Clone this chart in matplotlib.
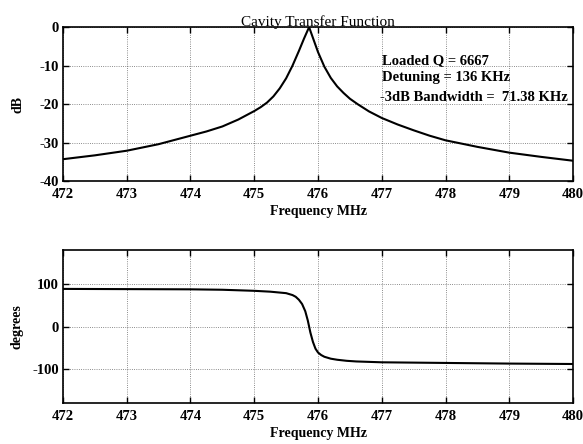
import matplotlib
matplotlib.use("Agg")
import matplotlib.pyplot as plt

# magnitude (MHz, dB)
freq_mag = [472.0, 472.5, 473.0, 473.5, 474.0, 474.25, 474.5, 474.75, 475.0,
            475.1, 475.2, 475.3, 475.4, 475.5, 475.6, 475.7, 475.78, 475.86,
            475.92, 476.0, 476.1, 476.2, 476.3, 476.4, 476.5, 476.62, 476.8,
            477.0, 477.25, 477.5, 477.75, 478.0, 478.5, 479.0, 479.5, 480.0]
mag_db = [-34.3, -33.3, -32.1, -30.4, -28.2, -27.1, -25.8, -24.0, -21.8,
          -20.8, -19.6, -18.0, -15.9, -13.3, -10.0, -6.2, -3.0, 0.0,
          -2.8, -6.5, -10.3, -13.2, -15.4, -17.1, -18.6, -20.0, -21.9,
          -23.6, -25.3, -26.8, -28.2, -29.4, -31.1, -32.6, -33.7, -34.7]

# phase (MHz, degrees)
freq_ph = [472.0, 473.0, 474.0, 474.5, 475.0, 475.25, 475.5, 475.6, 475.65,
           475.7, 475.75, 475.8, 475.84, 475.86, 475.88, 475.92, 475.96, 476.0,
           476.05, 476.1, 476.2, 476.3, 476.45, 476.6, 477.0, 478.0, 479.0, 480.0]
phase_deg = [88.5, 88.0, 87.5, 86.5, 84.0, 82.0, 78.5, 74.0, 70.0,
             63.0, 53.0, 36.0, 14.0, 0.0, -14.0, -36.0, -52.0, -61.0,
             -67.0, -71.0, -75.5, -78.0, -80.5, -82.0, -84.0, -85.5, -87.0, -88.0]

x_ticks = [472, 473, 474, 475, 476, 477, 478, 479, 480]
mag_ticks = [0, -10, -20, -30, -40]
ph_ticks = [-100, 0, 100]

plt.rcParams['font.family'] = ['Liberation Serif', 'DejaVu Serif']
plt.rcParams['font.weight'] = 'bold'
plt.rcParams['axes.unicode_minus'] = False

fig = plt.figure(figsize=(5.83, 4.44), dpi=100)
ax1 = fig.add_axes([0.108, 0.592, 0.875, 0.347])
ax2 = fig.add_axes([0.108, 0.092, 0.875, 0.345])

ax1.plot(freq_mag, mag_db, color='black', lw=1.5)
ax1.set_xlim(472, 480)
ax1.set_ylim(-40, 0)
ax1.set_yticks(mag_ticks)
ax1.set_ylabel('dB', fontsize=10, fontweight='bold', labelpad=11)
ax1.set_xlabel('Frequency MHz', fontsize=10, fontweight='bold', labelpad=3)
ax1.set_title('Cavity Transfer Function', fontsize=11, fontweight='normal', pad=1)
ax1.text(477.0, -8.6, 'Loaded Q = 6667', fontsize=10.5, fontweight='bold', va='center')
ax1.text(477.0, -13.0, 'Detuning = 136 KHz', fontsize=10.5, fontweight='bold', va='center')
ax1.text(476.97, -18.2, '-3dB Bandwidth =  71.38 KHz', fontsize=10.5, fontweight='bold',
         va='center')

ax2.plot(freq_ph, phase_deg, color='black', lw=1.5)
ax2.set_xlim(472, 480)
ax2.set_ylim(-180, 180)
ax2.set_yticks(ph_ticks)
ax2.set_ylabel('degrees', fontsize=10, fontweight='bold', labelpad=6)
ax2.set_xlabel('Frequency MHz', fontsize=10, fontweight='bold', labelpad=3)

for ax in (ax1, ax2):
    ax.set_xticks(x_ticks)
    ax.tick_params(direction='in', top=True, right=True, length=4, width=1,
                   labelsize=10.5)
    ax.tick_params(axis='x', pad=5)
    ax.tick_params(axis='y', pad=3)
    ax.grid(True, linestyle=':', color='black', lw=0.6, alpha=0.6)
    for s in ax.spines.values():
        s.set_linewidth(1.2)

fig.savefig('out.png', dpi=100)
